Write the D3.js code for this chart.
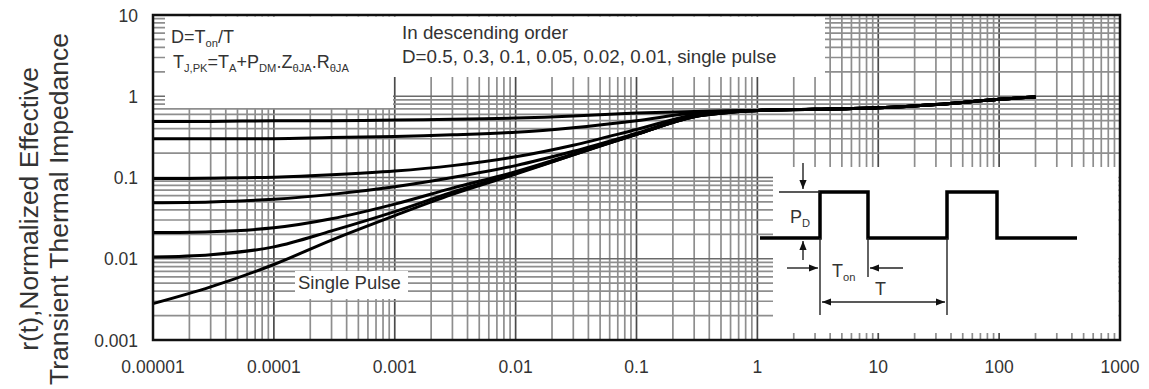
<!DOCTYPE html>
<html>
<head>
<meta charset="utf-8">
<script src="https://cdn.jsdelivr.net/npm/d3@7"></script>
<style>
  html, body { margin: 0; padding: 0; background: #fff; }
  svg { display: block; font-family: "Liberation Sans", Arial, Helvetica, sans-serif; }
</style>
</head>
<body>
<svg id="chart" width="1149" height="389"></svg>
<script>
// Square-wave pulse duration t (s) at which each curve is sampled
const pulseWidth = [1e-5, 3e-5, 1e-4, 3e-4, 1e-3, 3e-3, 1e-2, 3e-2, 1e-1, 3e-1, 1, 3, 10, 30, 100, 200];

// Normalized effective transient thermal impedance r(t), one array per duty cycle
const rD050 = [0.49, 0.49, 0.50, 0.50, 0.51, 0.52, 0.54, 0.57, 0.62, 0.65, 0.67, 0.69, 0.72, 0.79, 0.92, 0.98];
const rD030 = [0.30, 0.30, 0.30, 0.31, 0.32, 0.335, 0.36, 0.41, 0.50, 0.62, 0.67, 0.69, 0.72, 0.79, 0.92, 0.98];
const rD010 = [0.097, 0.098, 0.101, 0.108, 0.120, 0.140, 0.180, 0.250, 0.390, 0.590, 0.67, 0.69, 0.72, 0.79, 0.92, 0.98];
const rD005 = [0.049, 0.050, 0.054, 0.062, 0.077, 0.100, 0.140, 0.210, 0.350, 0.570, 0.67, 0.69, 0.72, 0.79, 0.92, 0.98];
const rD002 = [0.021, 0.0215, 0.024, 0.031, 0.047, 0.074, 0.118, 0.195, 0.340, 0.560, 0.67, 0.69, 0.72, 0.79, 0.92, 0.98];
const rD001 = [0.0105, 0.0112, 0.014, 0.022, 0.038, 0.066, 0.113, 0.190, 0.340, 0.560, 0.67, 0.69, 0.72, 0.79, 0.92, 0.98];
const rSingle = [0.0028, 0.0045, 0.0085, 0.017, 0.034, 0.062, 0.110, 0.190, 0.340, 0.560, 0.67, 0.69, 0.72, 0.79, 0.92, 0.98];

const curveSeries = [rD050, rD030, rD010, rD005, rD002, rD001, rSingle];
const dutyCycles = ["0.5", "0.3", "0.1", "0.05", "0.02", "0.01", "single pulse"];

// Axis ticks
const xTickValues = [1e-5, 1e-4, 1e-3, 1e-2, 1e-1, 1, 10, 100, 1000];
const xTickLabels = ["0.00001", "0.0001", "0.001", "0.01", "0.1", "1", "10", "100", "1000"];
const yTickValues = [0.001, 0.01, 0.1, 1, 10];
const yTickLabels = ["0.001", "0.01", "0.1", "1", "10"];

const svg = d3.select("#chart");
const plot = { left: 153, right: 1120, top: 15, bottom: 340 };

const x = d3.scaleLog().domain([1e-5, 1e3]).range([plot.left, plot.right]);
const y = d3.scaleLog().domain([1e-3, 10]).range([plot.bottom, plot.top]);

// ---- log grid: minor lines 2..9 per decade, darker decade lines ----
const grid = svg.append("g");
const xGrid = [];
for (let e = -5; e < 3; e++) for (let k = 1; k <= 9; k++) xGrid.push({ v: k * Math.pow(10, e), major: k === 1 });
const yGrid = [];
for (let e = -3; e < 1; e++) for (let k = 1; k <= 9; k++) yGrid.push({ v: k * Math.pow(10, e), major: k === 1 });

grid.selectAll("line.gx").data(xGrid.filter(d => d.v > 1e-5)).join("line")
  .attr("x1", d => x(d.v)).attr("x2", d => x(d.v))
  .attr("y1", plot.top).attr("y2", plot.bottom)
  .attr("stroke", d => d.major ? "#4a4a4a" : "#8e8e8e")
  .attr("stroke-width", 1.7);

grid.selectAll("line.gy").data(yGrid.filter(d => d.v > 1e-3)).join("line")
  .attr("x1", plot.left).attr("x2", plot.right)
  .attr("y1", d => y(d.v)).attr("y2", d => y(d.v))
  .attr("stroke", d => d.major ? "#6a6a6a" : "#8e8e8e")
  .attr("stroke-width", 1.7);

// ---- white panels for the notes and the waveform sketch ----
const panels = [
  { x0: 165, x1: 393, y0: 16.5, y1: 108 },    // formula note
  { x0: 393, x1: 825, y0: 16.5, y1: 77 },     // duty-cycle order note
  { x0: 773, x1: 1118.5, y0: 167, y1: 333 },  // waveform sketch
  { x0: 295, x1: 408, y0: 271, y1: 299 }      // "Single Pulse" tag
];
svg.append("g").selectAll("rect").data(panels).join("rect")
  .attr("x", d => d.x0).attr("y", d => d.y0)
  .attr("width", d => d.x1 - d.x0).attr("height", d => d.y1 - d.y0)
  .attr("fill", "#fff");

// ---- impedance curves ----
const line = d3.line()
  .x((d, i) => x(pulseWidth[i]))
  .y(d => y(d))
  .curve(d3.curveCatmullRom.alpha(0.5));

svg.append("g").selectAll("path").data(curveSeries).join("path")
  .attr("d", d => line(d))
  .attr("fill", "none")
  .attr("stroke", "#000")
  .attr("stroke-width", 3)
  .attr("stroke-linejoin", "round");

// ---- plot frame ----
svg.append("rect")
  .attr("x", plot.left).attr("y", plot.top)
  .attr("width", plot.right - plot.left).attr("height", plot.bottom - plot.top)
  .attr("fill", "none").attr("stroke", "#111").attr("stroke-width", 2.5);

// ---- tick labels ----
const textColor = "#333";
svg.append("g").selectAll("text").data(xTickValues).join("text")
  .attr("x", d => x(d)).attr("y", 373)
  .attr("text-anchor", "middle")
  .attr("font-size", 17.5).attr("fill", textColor)
  .text((d, i) => xTickLabels[i]);

svg.append("g").selectAll("text").data(yTickValues).join("text")
  .attr("x", 138).attr("y", d => y(d) + 6.5)
  .attr("text-anchor", "end")
  .attr("font-size", 17.5).attr("fill", textColor)
  .text((d, i) => yTickLabels[i]);

// ---- y axis title (two lines) ----
const titleLines = ["r(t),Normalized Effective", "Transient Thermal Impedance"];
svg.append("g").selectAll("text").data(titleLines).join("text")
  .attr("transform", (d, i) => `translate(${38 + i * 30},209) rotate(-90)`)
  .attr("text-anchor", "middle")
  .attr("font-size", 26.5).attr("fill", textColor)
  .text(d => d);

// ---- notes: text runs with optional subscripts ----
function richText(g, xPos, yPos, size, parts) {
  const t = g.append("text").attr("x", xPos).attr("y", yPos)
    .attr("font-size", size).attr("fill", textColor);
  const drop = size * 0.22;
  let lowered = false;
  parts.forEach(p => {
    const span = t.append("tspan");
    if (p.sub) {
      span.attr("font-size", size * 0.62).attr("dy", lowered ? 0 : drop).text(p.sub);
      lowered = true;
    } else {
      span.attr("dy", lowered ? -drop : 0).text(p.t);
      lowered = false;
    }
  });
  return t;
}

const notes = svg.append("g");
richText(notes, 171, 43, 18, [{ t: "D=T" }, { sub: "on" }, { t: "/T" }]);
richText(notes, 173, 68, 18, [
  { t: "T" }, { sub: "J,PK" }, { t: "=T" }, { sub: "A" }, { t: "+P" }, { sub: "DM" },
  { t: ".Z" }, { sub: "\u03B8JA" }, { t: ".R" }, { sub: "\u03B8JA" }
]);
notes.append("text").attr("x", 402).attr("y", 39).attr("font-size", 18.8).attr("fill", textColor)
  .text("In descending order");
notes.append("text").attr("x", 402).attr("y", 63).attr("font-size", 18.8).attr("fill", textColor)
  .text("D=" + dutyCycles.join(", "));
notes.append("text").attr("x", 298).attr("y", 289).attr("font-size", 18.5).attr("fill", textColor)
  .text("Single Pulse");

// ---- rectangular power pulse train sketch ----
const defs = svg.append("defs");
defs.append("marker").attr("id", "ah")
  .attr("viewBox", "0 0 10 10").attr("refX", 10).attr("refY", 5)
  .attr("markerWidth", 9).attr("markerHeight", 9).attr("markerUnits", "userSpaceOnUse")
  .attr("orient", "auto-start-reverse")
  .append("path").attr("d", "M0,1 L10,5 L0,9 Z").attr("fill", "#111");

const sketch = svg.append("g").attr("transform", "translate(760,192)");
const edges = [0, 60, 108, 187, 237, 317];   // along-axis positions of the waveform edges
const high = 0, low = 46;
sketch.append("path")
  .attr("d", `M${edges[0]},${low} H${edges[1]} V${high} H${edges[2]} V${low} H${edges[3]} V${high} H${edges[4]} V${low} H${edges[5]}`)
  .attr("fill", "none").attr("stroke", "#000").attr("stroke-width", 3.5);

function seg(x1, y1, x2, y2, arrow) {
  const l = sketch.append("line").attr("x1", x1).attr("y1", y1).attr("x2", x2).attr("y2", y2)
    .attr("stroke", "#222").attr("stroke-width", 1.4);
  if (arrow === "end" || arrow === "both") l.attr("marker-end", "url(#ah)");
  if (arrow === "both") l.attr("marker-start", "url(#ah)");
}
seg(19, high, edges[1], high);                 // top level extension
seg(43, -29, 43, -3, "end");                   // P_D upper arrow
seg(43, 68, 43, 49, "end");                    // P_D lower arrow
seg(edges[1], low, edges[1], 123);             // extension at first rise
seg(edges[2], low, edges[2], 85);              // extension at first fall
seg(edges[3], low, edges[3], 123);             // extension at second rise
seg(27, 76, edges[1] - 2, 76, "end");          // T_on left arrow
seg(143, 76, edges[2] + 2, 76, "end");         // T_on right arrow
seg(edges[1] + 2, 110, edges[3] - 2, 110, "both"); // period T

richText(sketch, 30, 31, 18, [{ t: "P" }, { sub: "D" }]);
richText(sketch, 72, 85, 18, [{ t: "T" }, { sub: "on" }]);
sketch.append("text").attr("x", 115).attr("y", 103).attr("font-size", 18).attr("fill", textColor).text("T");
</script>
</body>
</html>
